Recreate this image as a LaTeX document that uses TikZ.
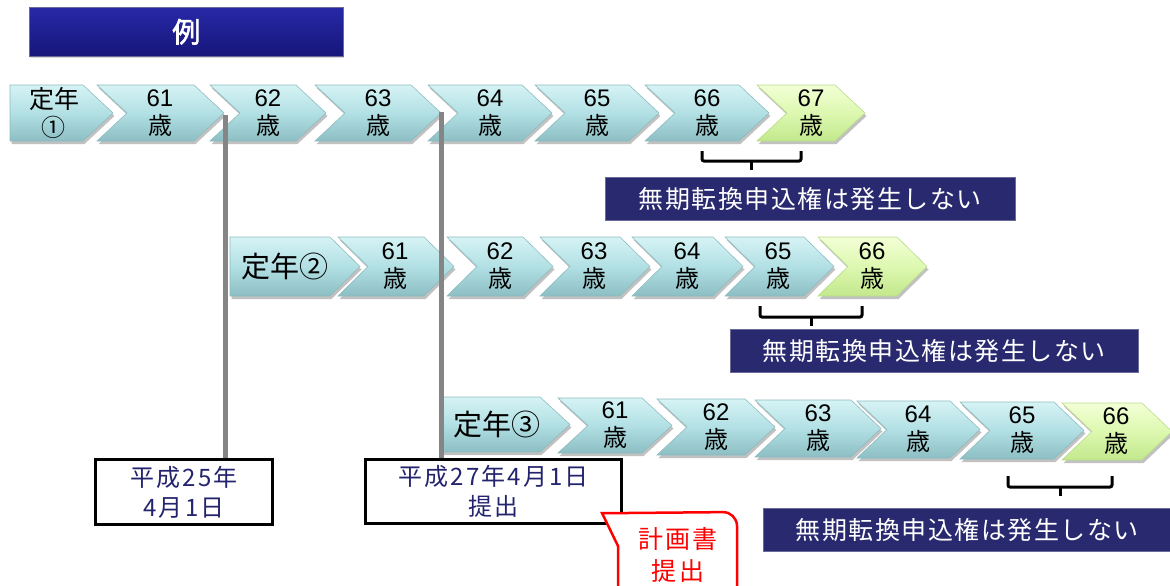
\documentclass[tikz,border=0pt]{standalone}
\usepackage{fontspec}
\setmainfont{Noto Sans CJK JP}
\newfontfamily\arfont{Liberation Sans}
\newfontfamily\jpfont{Noto Sans CJK JP}
\newfontfamily\jpboldfont[FakeBold=2]{Noto Sans CJK JP}
\newfontfamily\jpwide[LetterSpace=6]{Noto Sans CJK JP}
\newfontfamily\jpbox[LetterSpace=9]{Noto Sans CJK JP}
\usetikzlibrary{shadows,calc}
\definecolor{cTop}{HTML}{D6F3F5}
\definecolor{cMid}{HTML}{B2E0E4}
\definecolor{cBot}{HTML}{8CBEC3}
\definecolor{cEdge}{HTML}{8DBCC0}
\definecolor{gTop}{HTML}{F2FFD6}
\definecolor{gMid}{HTML}{DDF8B0}
\definecolor{gBot}{HTML}{C2E88C}
\definecolor{gEdge}{HTML}{B8DC8A}
\definecolor{navy}{HTML}{29296F}
\definecolor{navyedge}{HTML}{6A6A98}
\definecolor{tTop}{HTML}{2828A8}
\definecolor{tBot}{HTML}{16167A}
\definecolor{boxtext}{HTML}{24246E}
\definecolor{vgray}{HTML}{858585}
\newcommand{\ctfont}{\fontsize{24}{28}\selectfont}
\newcommand{\chev}[9]{%
  \path[#7] (#2,#4) -- ({#3-30},#4) -- (#3,{(#4+#5)/2}) -- ({#3-30},#5) -- (#2,#5) -- ({#2+#6},{(#4+#5)/2}) -- cycle;
  \node[ctext] (#1) at (#9,{(#4+#5)/2}) {#8};}
\newcommand{\age}[1]{{\arfont #1}\\歳}
\tikzset{
  shd/.style={drop shadow={shadow xshift=1.5pt, shadow yshift=-3pt, opacity=0.35, fill=black!70}},
  chevblue/.style={top color=cTop, bottom color=cBot, middle color=cMid, draw=cEdge, line width=0.6pt, shd},
  chevgreen/.style={top color=gTop, bottom color=gBot, middle color=gMid, draw=gEdge, line width=0.6pt, shd},
  ctext/.style={font=\ctfont, align=center, inner sep=0pt, text=black},
  vline/.style={draw=vgray, line width=5pt},
  datebox/.style={draw=black, line width=3pt, fill=white, anchor=north west, align=center, text=boxtext, font=\jpbox\fontsize{24}{30}\selectfont, inner sep=0pt},
  labelbox/.style={fill=navy, draw=navyedge, line width=0.8pt, anchor=north west, text=white, font=\jpwide\fontsize{25}{28}\selectfont, inner sep=0pt, minimum height=43pt},
  brk/.style={draw=black, line width=3pt, rounded corners=2pt},
  titlebox/.style={top color=tTop, bottom color=tBot, draw=navyedge, line width=0.5pt, anchor=north west, text=white, font=\jpboldfont\fontsize{28}{32}\selectfont, minimum width=314pt, minimum height=49pt, inner sep=0pt, drop shadow={shadow xshift=1pt, shadow yshift=-2pt, opacity=0.3}},
  callout/.style={draw=red, line width=2.5pt, fill=white},
  callouttext/.style={text=red, font=\jpbox\fontsize{25}{32}\selectfont, align=center, inner sep=0pt}
}
\begin{document}
\begin{tikzpicture}[x=1pt,y=-1pt]
\useasboundingbox (0,0) rectangle (1170,586);
\clip (0,0) rectangle (1170,586);
% title
\node[titlebox] (title) at (29,7) {例};
% row 1
\chev{r1a}{10}{113}{85}{141}{0}{chevblue}{\fontsize{25}{28}\selectfont 定年\\①}{54}
\chev{r1b}{97}{224}{85}{141}{30}{chevblue}{\age{61}}{160}
\chev{r1c}{210}{326}{85}{141}{30}{chevblue}{\age{62}}{268}
\chev{r1d}{315}{441}{85}{141}{30}{chevblue}{\age{63}}{378}
\chev{r1e}{428}{552}{85}{141}{30}{chevblue}{\age{64}}{490}
\chev{r1f}{535}{659}{85}{141}{30}{chevblue}{\age{65}}{597}
\chev{r1g}{645}{769}{85}{141}{30}{chevblue}{\age{66}}{707}
\chev{r1h}{757}{865}{85}{141}{30}{chevgreen}{\age{67}}{811}
% row 2
\chev{r2a}{230}{360}{237}{296}{0}{chevblue}{\fontsize{29}{32}\selectfont 定年②}{285}
\chev{r2b}{338}{454}{237}{296}{30}{chevblue}{\age{61}}{395}
\chev{r2c}{447}{553}{237}{296}{30}{chevblue}{\age{62}}{500}
\chev{r2d}{540}{650}{237}{296}{30}{chevblue}{\age{63}}{594}
\chev{r2e}{632}{743}{237}{296}{30}{chevblue}{\age{64}}{687}
\chev{r2f}{725}{834}{237}{296}{30}{chevblue}{\age{65}}{778}
\chev{r2g}{818}{927}{237}{296}{30}{chevgreen}{\age{66}}{872}
% row 3
\chev{r3a}{440}{570}{397}{452}{0}{chevblue}{\fontsize{29}{32}\selectfont 定年③}{497}
\chev{r3b}{558}{672}{398}{453}{30}{chevblue}{\age{61}}{615}
\chev{r3c}{657}{775}{399}{455}{30}{chevblue}{\age{62}}{716}
\chev{r3d}{755}{881}{400}{457}{30}{chevblue}{\age{63}}{818}
\chev{r3e}{857}{980}{401}{458}{30}{chevblue}{\age{64}}{918}
\chev{r3f}{960}{1084}{402}{459}{30}{chevblue}{\age{65}}{1022}
\chev{r3g}{1062}{1172}{403}{460}{30}{chevgreen}{\age{66}}{1116}
% date boxes
\node[datebox, minimum width=177pt, minimum height=65pt] (b1) at (94,458) {平成25年\\4月1日};
\node[datebox, minimum width=256pt, minimum height=64pt] (b2) at (364,458) {平成27年4月1日\\提出};
% vertical lines
\coordinate (v1) at (225,115);
\coordinate (v2) at (441,112);
\draw[vline] (v1) -- (v1 |- b1.north);
\draw[vline] (v2) -- (v2 |- b2.north);
% brackets
\coordinate (k1l) at (702,151); \coordinate (k1r) at (801,151); \coordinate (k1m) at (751,161);
\draw[brk] (k1l) -- (702,161) -- (801,161) -- (k1r);
\draw[brk] (k1m) -- (751,170);
\coordinate (k2l) at (760,306); \coordinate (k2r) at (862,306); \coordinate (k2m) at (811,317);
\draw[brk] (k2l) -- (760,317) -- (862,317) -- (k2r);
\draw[brk] (k2m) -- (811,326);
\coordinate (k3l) at (1008,476); \coordinate (k3r) at (1112,476); \coordinate (k3m) at (1060,487);
\draw[brk] (k3l) -- (1008,487) -- (1112,487) -- (k3r);
\draw[brk] (k3m) -- (1060,496);
% label boxes
\node[labelbox, minimum width=410pt] (nA) at (605,177) {無期転換申込権は発生しない};
\node[labelbox, minimum width=408pt] (nB) at (730,329) {無期転換申込権は発生しない};
\node[labelbox, minimum width=408pt] (nC) at (763,508) {無期転換申込権は発生しない};
% callout
\draw[callout] (618,600) -- (618,546) -- (602,513) -- (628,513) [rounded corners=14pt] -- (737,512) -- (737,600) [sharp corners] -- cycle;
\node[callouttext] (plan) at (678,555) {計画書\\提出};
\end{tikzpicture}
\end{document}
